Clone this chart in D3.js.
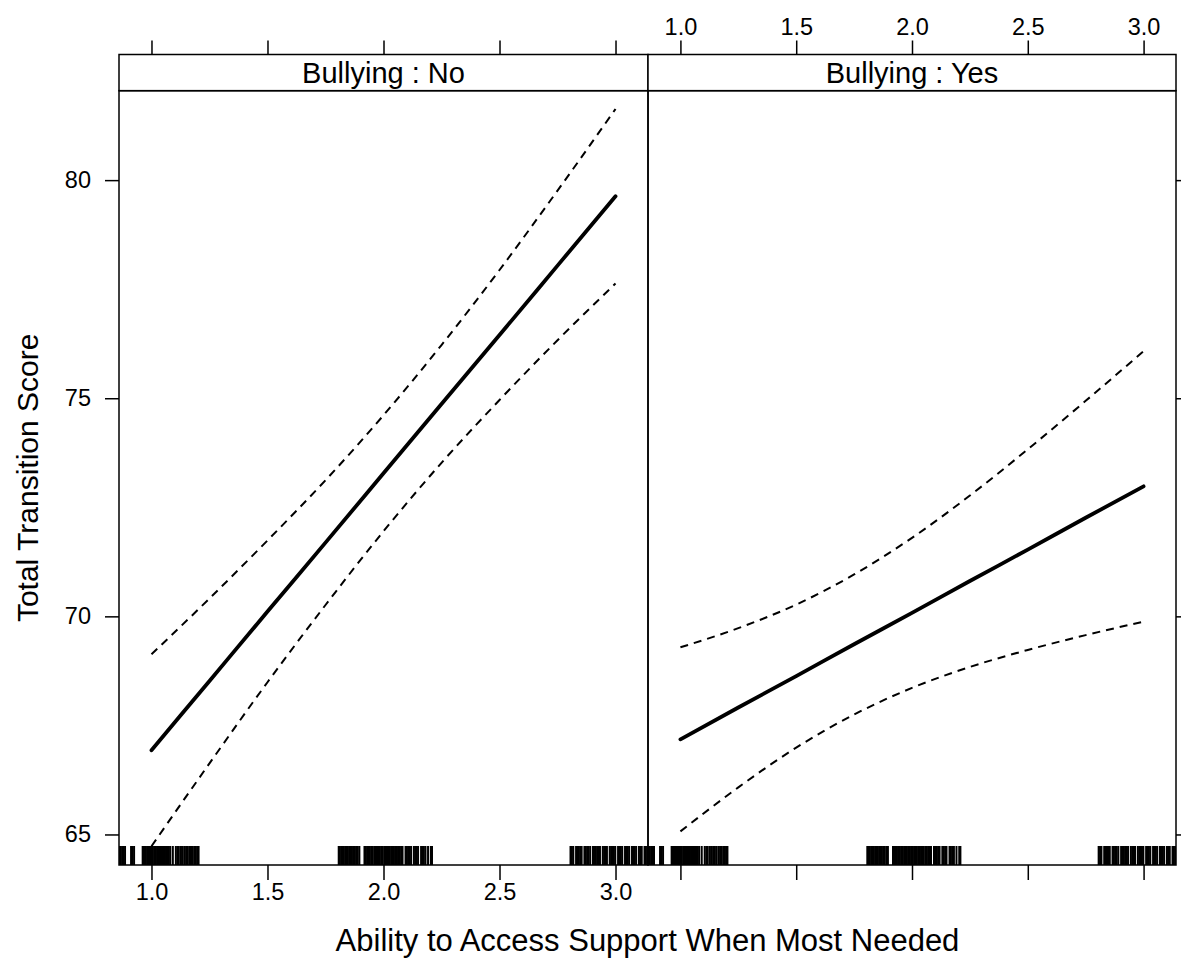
<!DOCTYPE html>
<html>
<head>
<meta charset="utf-8">
<script src="https://cdn.jsdelivr.net/npm/d3@7"></script>
<style>
  body { margin: 0; background: #fff; }
  svg { display: block; }
  text { font-family: "Liberation Sans", Arial, Helvetica, sans-serif; fill: #000; }
  .axis path.domain { display: none; }
  .axis line { stroke: #000; stroke-width: 1.5; }
  .axis text { font-size: 23.5px; }
</style>
</head>
<body>
<div id="chart"></div>
<script>
// effect of support access by bullying status
const panels = ['No', 'Yes']
const xGrid = [1, 1.25, 1.5, 1.75, 2, 2.25, 2.5, 2.75, 3]
const fitNo = [66.93, 68.52, 70.11, 71.69, 73.28, 74.87, 76.45, 78.04, 79.63]
const upperNo = [69.13, 70.41, 71.74, 73.12, 74.61, 76.22, 77.94, 79.76, 81.63]
const lowerNo = [64.73, 66.63, 68.49, 70.26, 71.95, 73.52, 74.96, 76.33, 77.63]
const fitYes = [67.18, 67.91, 68.63, 69.36, 70.08, 70.81, 71.53, 72.26, 72.98]
const upperYes = [69.29, 69.73, 70.27, 70.96, 71.80, 72.77, 73.83, 74.94, 76.08]
const lowerYes = [65.07, 66.08, 66.99, 67.75, 68.36, 68.84, 69.23, 69.57, 69.88]
const xTicks = [1, 1.5, 2, 2.5, 3]
const yTicks = [65, 70, 75, 80]
// observed (jittered) support values for the rug
const rugValues = [
  0.862, 0.868, 0.874, 0.879, 0.886, 0.912, 0.918, 0.925, 0.962, 0.966, 0.971, 0.975,
  0.981, 0.986, 0.99, 0.995, 1.001, 1.006, 1.012, 1.018, 1.024, 1.029, 1.035, 1.041,
  1.046, 1.052, 1.058, 1.063, 1.069, 1.075, 1.081, 1.092, 1.105, 1.112, 1.118, 1.127,
  1.133, 1.141, 1.149, 1.157, 1.166, 1.172, 1.178, 1.185, 1.191, 1.197, 1.203,
  1.807, 1.812, 1.818, 1.824, 1.829, 1.835, 1.841, 1.846, 1.852, 1.858, 1.864, 1.87,
  1.876, 1.882, 1.889, 1.896, 1.918, 1.924, 1.93, 1.935, 1.941, 1.947, 1.953, 1.96,
  1.966, 1.972, 1.978, 1.984, 1.99, 1.996, 2.003, 2.009, 2.015, 2.021, 2.027, 2.033,
  2.039, 2.045, 2.051, 2.058, 2.064, 2.07, 2.076, 2.082, 2.095, 2.101, 2.107, 2.113,
  2.119, 2.131, 2.137, 2.143, 2.149, 2.162, 2.168, 2.174, 2.181, 2.192, 2.204, 2.209,
  2.806, 2.812, 2.818, 2.83, 2.836, 2.842, 2.848, 2.854, 2.866, 2.872, 2.878, 2.884,
  2.891, 2.903, 2.909, 2.915, 2.921, 2.927, 2.933, 2.945, 2.951, 2.957, 2.963, 2.975,
  2.981, 2.987, 2.993, 2.999, 3.011, 3.017, 3.023, 3.029, 3.041, 3.047, 3.053, 3.059,
  3.071, 3.077, 3.083, 3.089, 3.101, 3.107, 3.113, 3.125, 3.131, 3.137, 3.149, 3.16, 3.18
]

const series = {
  No: { fit: fitNo, upper: upperNo, lower: lowerNo },
  Yes: { fit: fitYes, upper: upperYes, lower: lowerYes },
}

const width = 1181
const height = 971
const stripTop = 54.5
const stripBottom = 90.7
const plotBottom = 865
const panelEdges = [119, 648, 1176]

const svg = d3.select('#chart')
  .append('svg')
    .attr('width', width)
    .attr('height', height)

const y = d3.scaleLinear()
  .domain([64.30, 82.05])
  .range([plotBottom, stripBottom])

const line = d3.line()
  .x(d => d.x)
  .y(d => d.y)
  .curve(d3.curveMonotoneX)

panels.forEach((name, i) => {
  const left = panelEdges[i]
  const right = panelEdges[i + 1]
  const x = d3.scaleLinear()
    .domain([0.86, 3.14])
    .range([left, right])

  const g = svg.append('g')

  svg.append('clipPath')
      .attr('id', 'clip' + i)
    .append('rect')
      .attr('x', left)
      .attr('y', stripBottom)
      .attr('width', right - left)
      .attr('height', plotBottom - stripBottom)

  const inner = g.append('g').attr('clip-path', `url(#clip${i})`)

  // rug
  inner.selectAll('line.rug')
    .data(rugValues)
    .enter()
    .append('line')
      .attr('class', 'rug')
      .attr('x1', d => x(d))
      .attr('x2', d => x(d))
      .attr('y1', plotBottom)
      .attr('y2', plotBottom - 19)
      .attr('stroke', '#000')
      .attr('stroke-width', 2)

  const s = series[name]
  const pts = arr => xGrid.map((v, j) => ({ x: x(v), y: y(arr[j]) }))

  ;['upper', 'lower'].forEach(key => {
    inner.append('path')
      .attr('d', line(pts(s[key])))
      .attr('fill', 'none')
      .attr('stroke', '#000')
      .attr('stroke-width', 2)
      .attr('stroke-dasharray', '8,6')
  })

  inner.append('path')
    .attr('d', line(pts(s.fit)))
    .attr('fill', 'none')
    .attr('stroke', '#000')
    .attr('stroke-width', 3.8)
    .attr('stroke-linecap', 'round')

  // strip
  g.append('rect')
    .attr('x', left)
    .attr('y', stripTop)
    .attr('width', right - left)
    .attr('height', stripBottom - stripTop)
    .attr('fill', '#fff')
    .attr('stroke', '#000')
    .attr('stroke-width', 1.5)

  g.append('text')
    .attr('x', (left + right) / 2)
    .attr('y', (stripTop + stripBottom) / 2)
    .attr('dy', '0.36em')
    .attr('text-anchor', 'middle')
    .style('font-size', '29px')
    .text(`Bullying : ${name}`)

  // panel border
  g.append('rect')
    .attr('x', left)
    .attr('y', stripBottom)
    .attr('width', right - left)
    .attr('height', plotBottom - stripBottom)
    .attr('fill', 'none')
    .attr('stroke', '#000')
    .attr('stroke-width', 1.5)

  // x axes: labels alternate, bottom on first panel, top on second
  const fmt = d3.format('.1f')
  svg.append('g')
    .attr('class', 'axis')
    .attr('transform', `translate(0, ${plotBottom})`)
    .call(d3.axisBottom(x).tickValues(xTicks).tickSize(15).tickPadding(3)
      .tickFormat(i === 0 ? fmt : ''))

  svg.append('g')
    .attr('class', 'axis')
    .attr('transform', `translate(0, ${stripTop})`)
    .call(d3.axisTop(x).tickValues(xTicks).tickSize(14).tickPadding(6)
      .tickFormat(i === 1 ? fmt : ''))
})

svg.append('g')
  .attr('class', 'axis')
  .attr('transform', `translate(${panelEdges[0]}, 0)`)
  .call(d3.axisLeft(y).tickValues(yTicks).tickSize(14).tickPadding(14))

svg.append('g')
  .attr('class', 'axis')
  .attr('transform', `translate(${panelEdges[2]}, 0)`)
  .call(d3.axisRight(y).tickValues(yTicks).tickSize(14).tickFormat(''))

svg.append('text')
  .attr('x', (panelEdges[0] + panelEdges[2]) / 2)
  .attr('y', 951)
  .attr('text-anchor', 'middle')
  .style('font-size', '31px')
  .text('Ability to Access Support When Most Needed')

svg.append('text')
  .attr('transform', `translate(38, ${(stripBottom + plotBottom) / 2}) rotate(-90)`)
  .attr('text-anchor', 'middle')
  .style('font-size', '30px')
  .text('Total Transition Score')
</script>
</body>
</html>
